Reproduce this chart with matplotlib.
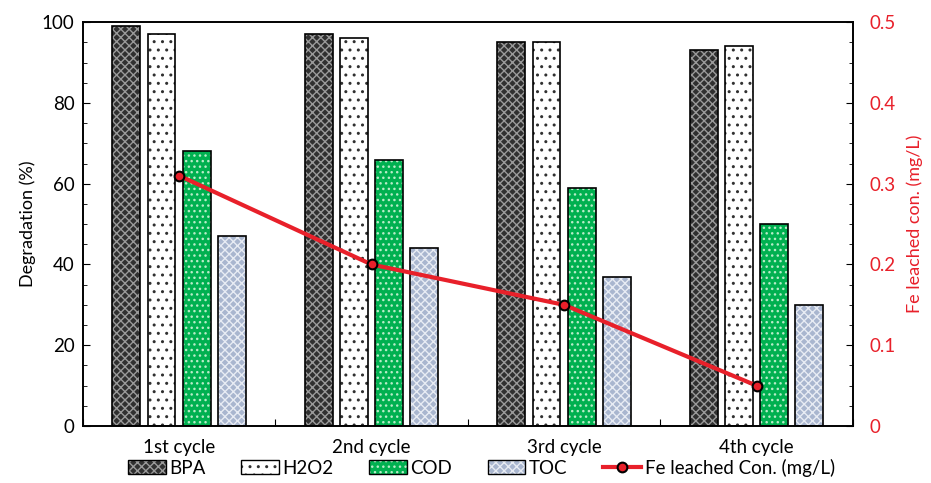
import numpy as np
import matplotlib
matplotlib.use("Agg")
import matplotlib.pyplot as plt
from matplotlib.patches import Patch
from matplotlib.lines import Line2D
from matplotlib.legend_handler import HandlerTuple
from matplotlib.ticker import MultipleLocator

plt.rcParams['font.family'] = ['Lato', 'DejaVu Sans']
plt.rcParams['hatch.linewidth'] = 1.0

cycles = ['1st cycle', '2nd cycle', '3rd cycle', '4th cycle']
bpa = [99, 97, 95, 93]
h2o2 = [97, 96, 95, 94]
cod = [68, 66, 59, 50]
toc = [47, 44, 37, 30]
fe = [0.31, 0.20, 0.15, 0.05]

red = '#e8202a'
x = np.arange(len(cycles))
w = 0.145
step = 0.183
fs = 13.5

fig = plt.figure(figsize=(9.31, 4.83), dpi=100)
ax = fig.add_axes([0.089, 0.118, 0.827, 0.836])

# (values, face, hatch, hatch colour, label)
series = [
    (bpa, '#303030', 'xxxx', '#9a9a9a', 'BPA'),
    (h2o2, 'white', '..', '#303030', 'H2O2'),
    (cod, '#00b050', '...', '#b8ecc8', 'COD'),
    (toc, '#a9b6cf', 'xxxx', '#e8ecf4', 'TOC'),
]
handles = []
for i, (vals, face, hatch, hc, lab) in enumerate(series):
    pos = x + (i - 1.5) * step
    ax.bar(pos, vals, w, color=face, hatch=hatch, edgecolor=hc, linewidth=0, zorder=2)
    ax.bar(pos, vals, w, fill=False, edgecolor='black', linewidth=1.2, zorder=3)
    h1 = Patch(facecolor=face, hatch=hatch, edgecolor=hc, linewidth=0)
    h2 = Patch(fill=False, edgecolor='black', linewidth=1.0)
    handles.append(((h1, h2), lab))

ax.set_xlim(-0.5, 3.5)
ax.set_ylim(0, 100)
ax.set_xticks([-0.5, 0.5, 1.5, 2.5, 3.5])
ax.set_xticklabels([])
ax.set_xticks(x, minor=True)
ax.set_xticklabels(cycles, minor=True, fontsize=fs)
ax.tick_params(axis='x', which='major', direction='in', length=5)
ax.tick_params(axis='x', which='minor', length=0, pad=9)
ax.yaxis.set_major_locator(MultipleLocator(20))
ax.yaxis.set_minor_locator(MultipleLocator(5))
ax.tick_params(axis='y', which='both', direction='in', labelsize=fs, pad=6)
ax.tick_params(axis='y', which='major', length=5)
ax.tick_params(axis='y', which='minor', length=3)
ax.set_ylabel('Degradation (%)', fontsize=13, labelpad=4)

ax2 = ax.twinx()
ax2.plot(x, fe, color=red, linewidth=3, marker='o', markersize=7,
         markerfacecolor=red, markeredgecolor='black', markeredgewidth=1.5, zorder=5)
ax2.set_ylim(0, 0.5)
ax2.yaxis.set_major_locator(MultipleLocator(0.1))
ax2.yaxis.set_minor_locator(MultipleLocator(0.025))
ax2.set_yticks([0, 0.1, 0.2, 0.3, 0.4, 0.5])
ax2.set_yticklabels(['0', '0.1', '0.2', '0.3', '0.4', '0.5'])
ax2.tick_params(axis='y', which='both', direction='in', labelsize=fs, labelcolor=red, pad=12)
ax2.tick_params(axis='y', which='major', length=5)
ax2.tick_params(axis='y', which='minor', length=3)
ax2.set_ylabel('Fe leached con. (mg/L)', fontsize=13, color=red, labelpad=8)

for a in (ax, ax2):
    for s in a.spines.values():
        s.set_linewidth(1.2)

line_h = Line2D([], [], color=red, linewidth=3, marker='o', markersize=7,
                markerfacecolor=red, markeredgecolor='black', markeredgewidth=1.5)
hs = [h for h, _ in handles] + [line_h]
ls = [l for _, l in handles] + ['Fe leached Con. (mg/L)']
fig.legend(hs, ls, handler_map={tuple: HandlerTuple(ndivide=1, pad=0)},
           loc='lower center', bbox_to_anchor=(0.517, -0.022), ncol=5, frameon=False,
           fontsize=fs, handlelength=2.0, handleheight=0.8, handletextpad=0.2,
           columnspacing=1.9)

fig.savefig('out.png', dpi=100)
